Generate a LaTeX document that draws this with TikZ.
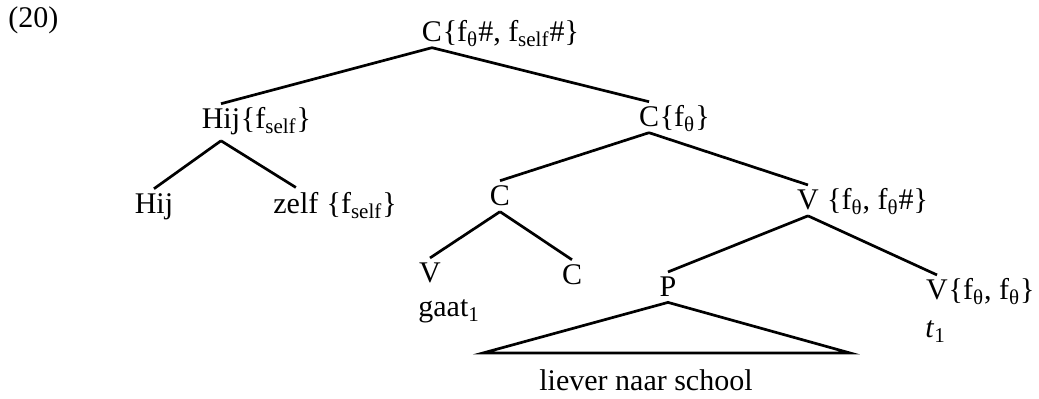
\documentclass[tikz,border=0pt]{standalone}
\usepackage{fontspec}
\setmainfont{Liberation Serif}

\begin{document}
\begin{tikzpicture}[x=0.5pt,y=-0.5pt,font=\fontsize{15}{18}\selectfont,
        cat/.style={anchor=base,inner xsep=0pt,inner ysep=2.5pt},
        feat/.style={anchor=base west,inner sep=0pt},
        branch/.style={line width=1.35pt}]

        \useasboundingbox (0,0) rectangle (1039,399);

        % Example number
        \node[anchor=base west,inner sep=0pt] (num) at (8,28) {(20)};

        % Labels: category letter, then its features
        \node[cat] (root) at (432,42) {C};
        \node[feat] (rootf) at (root.base east) {\{f\textsubscript{θ}\#, f\textsubscript{self}\#\}};
        \node[cat] (hij) at (221,129) {Hij};
        \node[feat] (hijf) at (hij.base east) {\{f\textsubscript{self}\}};
        \node[cat] (cbar) at (649,127) {C};
        \node[feat] (cbarf) at (cbar.base east) {\{f\textsubscript{θ}\}};

        \node[cat] (hijleaf) at (154,214) {Hij};
        \node[cat,anchor=base west] (zelf) at (273,214) {zelf};
        \node[feat] (zelff) at (zelf.base east) {~\{f\textsubscript{self}\}};

        \node[cat] (chead) at (500,206) {C};
        \node[cat] (vmove) at (430,283) {V};
        \node[feat] (gaat) at (418,317) {gaat\textsubscript{1}};
        \node[cat] (cleaf) at (572,285) {C};

        \node[cat] (vp) at (808,210) {V};
        \node[feat] (vpf) at (vp.base east) {~\{f\textsubscript{θ}, f\textsubscript{θ}\#\}};
        \node[cat] (pp) at (668,297) {P};
        \node[cat] (vtr) at (937,300) {V};
        \node[feat] (vtrf) at (vtr.base east) {\{f\textsubscript{θ}, f\textsubscript{θ}\}};
        \node[feat] (trace) at (925,338) {\textit{t}\textsubscript{1}};

        % Triangle over the P
        \coordinate (trileft) at (483,353);
        \coordinate (triright) at (850,353);
        \node[anchor=base,inner sep=0pt] (words) at (646,391) {liever naar school};

        % Branches
        \draw[branch] (root.south) -- (hij.north);
        \draw[branch] (root.south) -- (cbar.north);
        \draw[branch] (hij.south) -- (hijleaf.north);
        \draw[branch] (hij.south) -- (zelf.north);
        \draw[branch] (cbar.south) -- (chead.north);
        \draw[branch] (cbar.south) -- (vp.north);
        \draw[branch] (chead.south) -- (vmove.north);
        \draw[branch] (chead.south) -- (cleaf.north);
        \draw[branch] (vp.south) -- (pp.north);
        \draw[branch] (vp.south) -- (vtr.north);
        \draw[branch] (pp.south) -- (trileft) -- (triright) -- cycle;
    \end{tikzpicture}
\end{document}
